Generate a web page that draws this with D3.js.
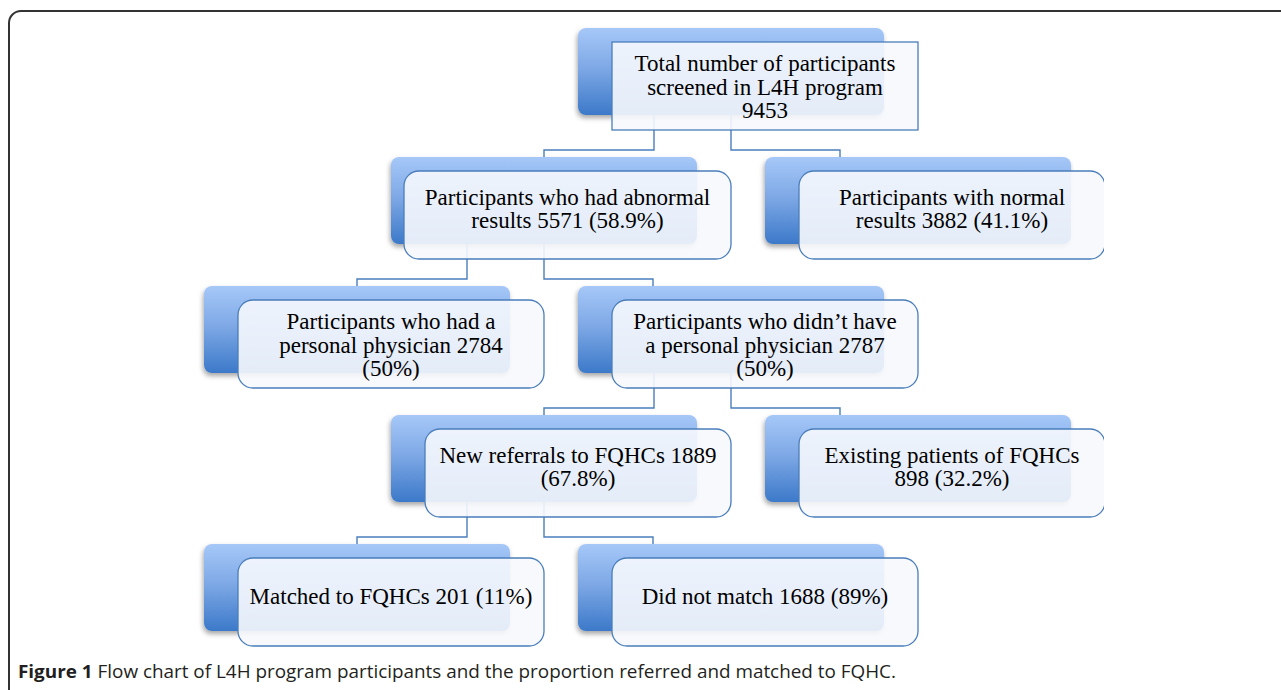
<!DOCTYPE html>
<html>
<head>
<meta charset="utf-8">
<style>
  body { margin: 0; background: #fff; }
  svg { display: block; }
</style>
</head>
<body>
<svg width="1281" height="690"></svg>
<script src="https://cdn.jsdelivr.net/npm/d3@7"></script>
<script>

// text of each box, one entry per line
var nodeLines = [
  ["Total number of participants", "screened in L4H program", "9453"],
  ["Participants who had abnormal", "results 5571 (58.9%)"],
  ["Participants with normal", "results 3882 (41.1%)"],
  ["Participants who had a", "personal physician 2784", "(50%)"],
  ["Participants who didn\u2019t have", "a personal physician 2787", "(50%)"],
  ["New referrals to FQHCs 1889", "(67.8%)"],
  ["Existing patients of FQHCs", "898 (32.2%)"],
  ["Matched to FQHCs 201 (11%)"],
  ["Did not match 1688 (89%)"]
];
var nodeParent = [-1, 0, 0, 1, 1, 4, 4, 5, 5];
var nodeLevel  = [0, 1, 1, 2, 2, 3, 3, 4, 4];
var nodeColumn = [2, 1, 3, 0, 2, 1, 3, 0, 2];

var captionBold = "Figure 1";
var captionText = " Flow chart of L4H program participants and the proportion referred and matched to FQHC.";

var svg = d3.select("svg"),
    width = +svg.attr("width"),
    height = +svg.attr("height");

var boxW = 306, boxH = 87, frontH = 88, lineH = 23.5;

var x = d3.scaleLinear().domain([0, 3]).range([204, 765]),
    y = d3.scaleLinear().domain([0, 4]).range([28, 544]);

var nodes = nodeLines.map(function(lines, i) {
  var n = {index: i, lines: lines, parent: nodeParent[i],
           bx: x(nodeColumn[i]), by: y(nodeLevel[i])};
  n.fx = n.bx + 34; n.fw = 306;
  if (i === 1) { n.fx = n.bx + 13; n.fw = 327; }
  n.fy = n.by + 14;
  n.rx = i === 0 ? 0 : 15;
  return n;
});

var links = nodes.filter(function(d) { return d.parent >= 0; }).map(function(d) {
  var p = nodes[d.parent],
      pc = p.bx + boxW / 2,
      cc = d.bx + boxW / 2;
  return cc < pc
    ? {x1: pc - 77, x2: cc, y1: p.by + boxH, ym: d.by - 7, y2: d.by}
    : {x1: pc, x2: cc - 78, y1: p.by + boxH, ym: d.by - 7, y2: d.by};
});

var defs = svg.append("defs");

var grad = defs.append("linearGradient")
    .attr("id", "back")
    .attr("x1", 0).attr("y1", 0).attr("x2", 0).attr("y2", 1);
grad.append("stop").attr("offset", "0%").attr("stop-color", "#a6c8f8");
grad.append("stop").attr("offset", "45%").attr("stop-color", "#7fa9e6");
grad.append("stop").attr("offset", "100%").attr("stop-color", "#3c79c9");

var shadow = defs.append("filter").attr("id", "shadow")
    .attr("x", "-10%").attr("y", "-10%").attr("width", "120%").attr("height", "130%");
shadow.append("feDropShadow")
    .attr("dx", -1).attr("dy", 3).attr("stdDeviation", 2.5)
    .attr("flood-color", "#000").attr("flood-opacity", 0.35);

defs.append("clipPath").attr("id", "clip")
  .append("rect").attr("x", 0).attr("y", 0).attr("width", 1104).attr("height", height);

// outer frame
svg.append("rect")
    .attr("x", 9).attr("y", 11)
    .attr("width", 1320).attr("height", 692)
    .attr("rx", 12)
    .attr("fill", "none")
    .attr("stroke", "#333")
    .attr("stroke-width", 2);

var g = svg.append("g").attr("clip-path", "url(#clip)");

g.append("g")
    .attr("fill", "url(#back)")
  .selectAll("rect")
  .data(nodes)
  .enter().append("rect")
    .attr("x", function(d) { return d.bx; })
    .attr("y", function(d) { return d.by; })
    .attr("width", boxW)
    .attr("height", boxH)
    .attr("rx", 8)
    .attr("filter", "url(#shadow)");

g.append("g")
    .attr("fill", "none")
    .attr("stroke", "#4a7ebb")
    .attr("stroke-width", 1.4)
  .selectAll("path")
  .data(links)
  .enter().append("path")
    .attr("d", function(d) {
      return "M" + d.x1 + "," + d.y1 + "V" + d.ym + "H" + d.x2 + "V" + d.y2;
    });

g.append("g")
  .selectAll("rect")
  .data(nodes)
  .enter().append("rect")
    .attr("x", function(d) { return d.fx; })
    .attr("y", function(d) { return d.fy; })
    .attr("width", function(d) { return d.fw; })
    .attr("height", frontH)
    .attr("rx", function(d) { return d.rx; })
    .attr("fill", "#f6f8fd")
    .attr("fill-opacity", 0.9)
    .attr("stroke", "#4a7ebb")
    .attr("stroke-width", 1.3);

var label = g.append("g")
    .attr("font-family", "'Liberation Serif', serif")
    .attr("font-size", 23)
    .attr("fill", "#000")
    .attr("text-anchor", "middle")
  .selectAll("text")
  .data(nodes)
  .enter().append("text")
    .attr("transform", function(d) {
      var cy = d.fy + frontH / 2 + (d.lines.length === 3 ? 8.5 : 1.5);
      return "translate(" + (d.fx + d.fw / 2) + "," + cy + ")";
    });

label.selectAll("tspan")
  .data(function(d) { return d.lines.map(function(t, i) { return {t: t, i: i, n: d.lines.length}; }); })
  .enter().append("tspan")
    .attr("x", 0)
    .attr("y", function(d) { return (d.i - (d.n - 1) / 2) * lineH; })
    .text(function(d) { return d.t; });

var cap = svg.append("text")
    .attr("x", 18)
    .attr("y", 678)
    .attr("font-family", "'Open Sans', sans-serif")
    .attr("font-size", 18.5)
    .attr("textLength", 878)
    .attr("lengthAdjust", "spacingAndGlyphs")
    .attr("fill", "#231f20");
cap.append("tspan").attr("font-weight", "bold").text(captionBold);
cap.append("tspan").text(captionText);

</script>
</body>
</html>
